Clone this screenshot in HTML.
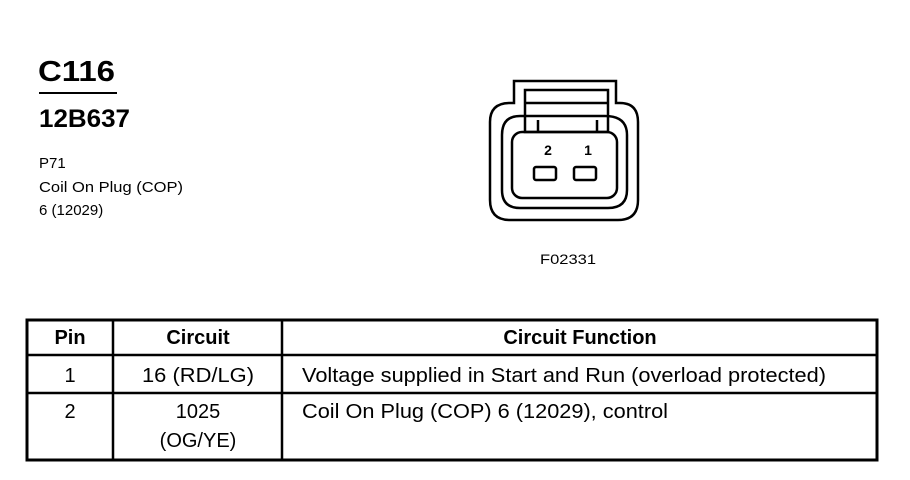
<!DOCTYPE html>
<html><head><meta charset="utf-8"><style>
html,body{margin:0;padding:0;background:#fff;}
svg{display:block;font-family:"Liberation Sans",Arial,sans-serif;}
</style></head><body>
<svg width="910" height="480" viewBox="0 0 910 480" xmlns="http://www.w3.org/2000/svg">
<rect width="910" height="480" fill="#fff"/>
<text x="38" y="81" font-size="29" font-weight="bold" textLength="77" lengthAdjust="spacingAndGlyphs">C116</text>
<rect x="39" y="92" width="78" height="2" fill="#000"/>
<text x="39" y="127" font-size="25" font-weight="bold" textLength="91" lengthAdjust="spacingAndGlyphs">12B637</text>
<text x="39" y="168" font-size="15">P71</text>
<text x="39" y="192" font-size="15" textLength="144" lengthAdjust="spacingAndGlyphs">Coil On Plug (COP)</text>
<text x="39" y="215" font-size="15">6 (12029)</text>

<g fill="none" stroke="#000" stroke-width="2.5">
<path d="M514 81 H616 V103 H620 Q638 103 638 122 V200 Q638 220 618 220 H510 Q490 220 490 200 V122 Q490 103 510 103 H514 Z"/>
<path d="M525 116 H605 Q627 116 627 135 V190 Q627 208 608 208 H520 Q502 208 502 190 V135 Q502 116 520 116 Z"/>
<rect x="525" y="90" width="83" height="42"/>
<line x1="525" y1="103" x2="608" y2="103"/>
<rect x="512" y="132" width="105" height="66" rx="10"/>
<line x1="538" y1="120" x2="538" y2="132"/>
<line x1="597" y1="120" x2="597" y2="132"/>
<rect x="534" y="167" width="22" height="13" rx="2"/>
<rect x="574" y="167" width="22" height="13" rx="2"/>
</g>
<text x="548" y="155" font-size="14" font-weight="bold" text-anchor="middle">2</text>
<text x="588" y="155" font-size="14" font-weight="bold" text-anchor="middle">1</text>
<text x="568" y="264" font-size="14" text-anchor="middle" textLength="56" lengthAdjust="spacingAndGlyphs">F02331</text>

<g stroke="#000" fill="none">
<rect x="27" y="320" width="850" height="140" stroke-width="3"/>
<line x1="27" y1="355" x2="877" y2="355" stroke-width="2.5"/>
<line x1="27" y1="393" x2="877" y2="393" stroke-width="2.5"/>
<line x1="113" y1="320" x2="113" y2="460" stroke-width="2.5"/>
<line x1="282" y1="320" x2="282" y2="460" stroke-width="2.5"/>
</g>
<g font-size="20" font-weight="bold" text-anchor="middle">
<text x="70" y="344">Pin</text>
<text x="198" y="344">Circuit</text>
<text x="580" y="344">Circuit Function</text>
</g>
<g font-size="20">
<text x="70" y="382" text-anchor="middle">1</text>
<text x="198" y="382" text-anchor="middle" textLength="112" lengthAdjust="spacingAndGlyphs">16 (RD/LG)</text>
<text x="302" y="382" textLength="524" lengthAdjust="spacingAndGlyphs">Voltage supplied in Start and Run (overload protected)</text>
<text x="70" y="418" text-anchor="middle">2</text>
<text x="198" y="418" text-anchor="middle">1025</text>
<text x="198" y="447" text-anchor="middle">(OG/YE)</text>
<text x="302" y="418" textLength="366" lengthAdjust="spacingAndGlyphs">Coil On Plug (COP) 6 (12029), control</text>
</g>
</svg>
</body></html>
